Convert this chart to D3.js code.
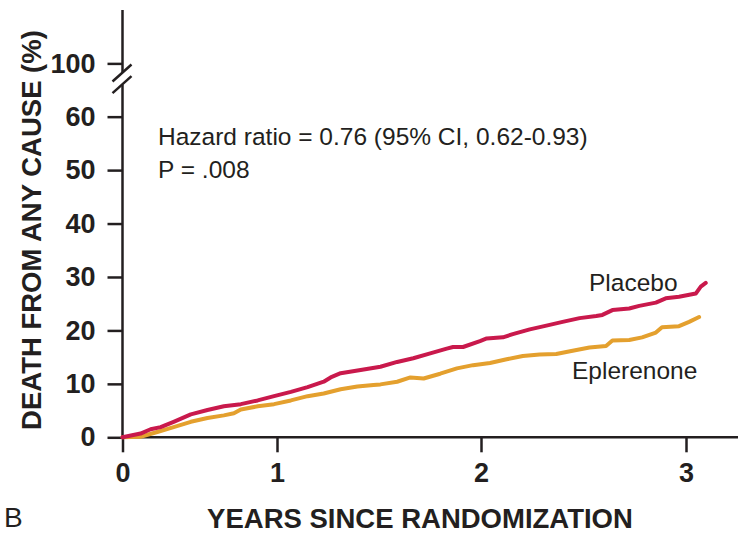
<!DOCTYPE html>
<html>
<head>
<meta charset="utf-8">
<script src="https://cdn.jsdelivr.net/npm/d3@7"></script>
<style>
  body { margin: 0; background: #fff; }
  svg { display: block; font-family: "Liberation Sans", Arial, Helvetica, sans-serif; }
  .axis text { font-size: 27px; font-weight: bold; fill: #231f20; }
  .axis line { stroke: #231f20; stroke-width: 2.5; }
  .axis-line { stroke: #231f20; stroke-width: 2.5; fill: none; }
  .axis-label { font-size: 27.5px; font-weight: bold; fill: #231f20; }
  .note { font-size: 24.5px; fill: #231f20; }
  .line { fill: none; stroke-width: 4; stroke-linejoin: round; stroke-linecap: round; }
</style>
</head>
<body>
<svg class="km-chart"></svg>
<script>
// years since randomization / cumulative death (%)
var placeboYears = [0, 0.117, 0.182, 0.247, 0.331, 0.442, 0.55, 0.656, 0.766, 0.875, 0.981,
  1.068, 1.15, 1.229, 1.263, 1.312, 1.41, 1.507, 1.589, 1.668, 1.751, 1.832, 1.863, 1.912, 1.995,
  2.028, 2.107, 2.155, 2.238, 2.319, 2.398, 2.481, 2.562, 2.592, 2.641, 2.723, 2.772, 2.853,
  2.901, 2.966, 3.047, 3.071, 3.095];
var placeboDeath = [0, 0.7, 1.5, 1.9, 2.9, 4.3, 5.1, 5.8, 6.2, 6.9, 7.7,
  8.5, 9.4, 10.4, 11.2, 12.0, 12.6, 13.2, 14.1, 14.8, 15.7, 16.6, 16.9, 16.9, 18.0,
  18.5, 18.7, 19.3, 20.2, 20.9, 21.6, 22.3, 22.7, 22.9, 23.8, 24.1, 24.6, 25.2,
  26.0, 26.3, 26.9, 28.2, 28.9];

var eplerenoneYears = [0, 0.117, 0.225, 0.331, 0.442, 0.55, 0.656, 0.721, 0.766, 0.875, 0.981,
  1.068, 1.15, 1.229, 1.312, 1.394, 1.473, 1.507, 1.589, 1.654, 1.719, 1.8, 1.882, 1.961,
  2.044, 2.125, 2.204, 2.286, 2.367, 2.447, 2.529, 2.61, 2.641, 2.723, 2.786, 2.853, 2.883,
  2.966, 3.015, 3.063];
var eplerenoneDeath = [0, 0.1, 1.0, 1.9, 2.9, 3.6, 4.1, 4.5, 5.2, 5.8, 6.2,
  6.9, 7.7, 8.2, 9.0, 9.5, 9.8, 9.9, 10.4, 11.2, 11.0, 11.9, 12.9, 13.5,
  13.9, 14.6, 15.2, 15.5, 15.6, 16.2, 16.8, 17.1, 18.1, 18.2, 18.7, 19.6, 20.6,
  20.8, 21.6, 22.5];

var xTicks = [0, 1, 2, 3];
var yTicksLower = [0, 10, 20, 30, 40, 50, 60];
var yTicksUpper = [100];

var width = 756;
var height = 540;

var chart = d3.select(".km-chart")
  .attr("width", width)
  .attr("height", height);

// the printed x axis is not evenly spaced, so the scale is piecewise
var x = d3.scaleLinear().domain([0, 1, 2, 3, 3.25]).range([122.5, 277, 481, 686, 738]);
var y = d3.scaleLinear().domain([0, 66]).range([437.3, 84.6]);
var yTop = d3.scaleLinear().domain([98.2, 110]).range([73, 10]);

function toPoints(xs, ys) {
  return xs.map(function(d, i) { return {t: d, v: ys[i]}; });
}

var valueline = d3.line()
  .x(function(d) { return x(d.t); })
  .y(function(d) { return y(d.v); });

// axes
var xAxis = chart.append("g")
  .attr("class", "axis")
  .attr("transform", "translate(0," + y(0) + ")")
  .call(d3.axisBottom(x).tickValues(xTicks).tickSize(15).tickPadding(11).tickFormat(d3.format("d")));
xAxis.select(".domain").remove();

var yAxis = chart.append("g")
  .attr("class", "axis")
  .attr("transform", "translate(" + x(0) + ",0)")
  .call(d3.axisLeft(y).tickValues(yTicksLower).tickSize(15).tickPadding(12));
yAxis.select(".domain").remove();

var yAxisTop = chart.append("g")
  .attr("class", "axis")
  .attr("transform", "translate(" + x(0) + ",0)")
  .call(d3.axisLeft(yTop).tickValues(yTicksUpper).tickSize(15).tickPadding(12));
yAxisTop.select(".domain").remove();

chart.append("line")
  .attr("class", "axis-line")
  .attr("x1", x(0)).attr("x2", x(3.25))
  .attr("y1", y(0)).attr("y2", y(0));

chart.append("line")
  .attr("class", "axis-line")
  .attr("x1", x(0)).attr("x2", x(0))
  .attr("y1", y(0)).attr("y2", y(66));

chart.append("line")
  .attr("class", "axis-line")
  .attr("x1", x(0)).attr("x2", x(0))
  .attr("y1", yTop(98.2)).attr("y2", yTop(110));

// break marks
[yTop(98.2), y(66)].forEach(function(cy) {
  chart.append("line")
    .attr("class", "axis-line")
    .attr("x1", x(0) - 10).attr("y1", cy + 8.5)
    .attr("x2", x(0) + 9).attr("y2", cy - 8.5);
});

// curves
chart.append("path")
  .data([toPoints(eplerenoneYears, eplerenoneDeath)])
  .attr("class", "line")
  .attr("stroke", "#e4a02e")
  .attr("d", valueline);

chart.append("path")
  .data([toPoints(placeboYears, placeboDeath)])
  .attr("class", "line")
  .attr("stroke", "#c9194c")
  .attr("d", valueline);

// labels
chart.append("text")
  .attr("class", "axis-label")
  .attr("transform", "rotate(-90)")
  .attr("x", -230)
  .attr("y", 41)
  .attr("text-anchor", "middle")
  .text("DEATH FROM ANY CAUSE (%)");

chart.append("text")
  .attr("class", "axis-label")
  .attr("x", 420)
  .attr("y", 528)
  .attr("text-anchor", "middle")
  .text("YEARS SINCE RANDOMIZATION");

chart.append("text")
  .attr("class", "note")
  .style("font-size", "28px")
  .attr("x", 4)
  .attr("y", 527)
  .text("B");

chart.append("text")
  .attr("class", "note")
  .attr("x", 158)
  .attr("y", 145)
  .text("Hazard ratio = 0.76 (95% CI, 0.62-0.93)");

chart.append("text")
  .attr("class", "note")
  .attr("x", 158)
  .attr("y", 178)
  .text("P = .008");

chart.append("text")
  .attr("class", "note")
  .attr("x", 589)
  .attr("y", 291)
  .text("Placebo");

chart.append("text")
  .attr("class", "note")
  .attr("x", 572)
  .attr("y", 379)
  .text("Eplerenone");
</script>
</body>
</html>
